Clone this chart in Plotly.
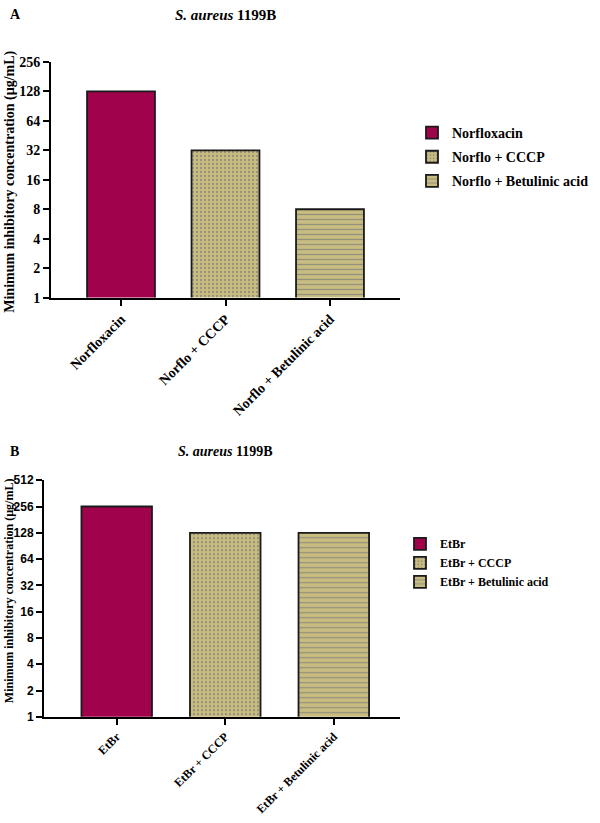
import plotly.graph_objects as go

# Panel A data
cats_a = ["Norfloxacin", "Norflo + CCCP", "Norflo + Betulinic acid"]
mic_a = [128, 32, 8]
# Panel B data
cats_b = ["EtBr", "EtBr + CCCP", "EtBr + Betulinic acid"]
mic_b = [256, 128, 128]

ticks_a = [1, 2, 4, 8, 16, 32, 64, 128, 256]
ticks_b = [1, 2, 4, 8, 16, 32, 64, 128, 256, 512]

CRIMSON = "#A0034B"
TAN = "#C9BC80"
FG = "#5A6475"
SERIF = "Liberation Serif"
SANS = "Liberation Sans"

styles = [
    dict(color=CRIMSON, pattern=dict(shape="")),
    dict(color=TAN, pattern=dict(shape=".", fgcolor=FG, bgcolor=TAN, size=4, solidity=0.25)),
    dict(color=TAN, pattern=dict(shape="-", fgcolor=FG, bgcolor=TAN, size=5, solidity=0.25)),
]

fig = go.Figure()
for i, (c, v) in enumerate(zip(cats_a, mic_a)):
    fig.add_trace(go.Bar(
        x=[c], y=[v], name="<b>%s</b>" % c, width=0.65, xaxis="x", yaxis="y",
        marker=dict(color=styles[i]["color"], pattern=styles[i]["pattern"],
                    line=dict(color="#1a1a1a", width=1.8)),
        legend="legend", legendgroup="a%d" % i, offsetgroup="a",
    ))
for i, (c, v) in enumerate(zip(cats_b, mic_b)):
    fig.add_trace(go.Bar(
        x=[c], y=[v], name="<b>%s</b>" % c, width=0.65, xaxis="x2", yaxis="y2",
        marker=dict(color=styles[i]["color"], pattern=styles[i]["pattern"],
                    line=dict(color="#1a1a1a", width=1.8)),
        legend="legend2", legendgroup="b%d" % i, offsetgroup="b",
    ))

axis_common = dict(showline=True, linecolor="black", linewidth=2, ticks="outside",
                   tickcolor="black", tickwidth=2, ticklen=6, showgrid=False, zeroline=False)

fig.update_layout(
    width=600, height=823, autosize=False,
    margin=dict(l=0, r=0, t=0, b=0),
    paper_bgcolor="white", plot_bgcolor="white",
    barmode="overlay",
    xaxis=dict(domain=[51/600, 400/600], anchor="y", range=[-0.67, 2.67],
               tickangle=-45, tickfont=dict(family=SERIF, size=14, color="black"),
               tickvals=cats_a, ticktext=["<b>%s</b>" % c for c in cats_a],
               categoryorder="array", categoryarray=cats_a, **axis_common),
    yaxis=dict(domain=[1-296/823, 1-56/823], anchor="x", type="log",
               range=[0, 2.40824], tickvals=ticks_a, ticktext=["<b>%d</b>" % t for t in ticks_a],
               tickfont=dict(family=SERIF, size=14, color="black"), **axis_common),
    xaxis2=dict(domain=[44/600, 400/600], anchor="y2", range=[-0.67, 2.61],
                tickangle=-45, tickfont=dict(family=SERIF, size=12, color="black"),
                tickvals=cats_b, ticktext=["<b>%s</b>" % c for c in cats_b],
                categoryorder="array", categoryarray=cats_b, **axis_common),
    yaxis2=dict(domain=[1-723/823, 1-482/823], anchor="x2", type="log",
                range=[0, 2.70927], tickvals=ticks_b, ticktext=["<b>%d</b>" % t for t in ticks_b],
                tickfont=dict(family=SANS, size=12, color="black"), **axis_common),
    legend=dict(x=412/600, y=1-112/823, xanchor="left", yanchor="top",
                font=dict(family=SERIF, size=14, color="black"), tracegroupgap=3,
                bgcolor="rgba(0,0,0,0)"),
    legend2=dict(x=400/600, y=1-532/823, xanchor="left", yanchor="top",
                 font=dict(family=SERIF, size=12, color="black"), tracegroupgap=0,
                 bgcolor="rgba(0,0,0,0)"),
    font=dict(family=SERIF, color="black"),
)

ytitle = "<b>Minimum inhibitory concentration (µg/mL)</b>"
ann = [
    dict(text="<b>A</b>", x=8/600, y=1-8/823, xref="paper", yref="paper",
         xanchor="left", yanchor="middle", showarrow=False, font=dict(family=SERIF, size=14)),
    dict(text="<b><i>S. aureus</i> 1199B</b>", x=225/600, y=1-8/823, xref="paper", yref="paper",
         xanchor="center", yanchor="middle", showarrow=False, font=dict(family=SERIF, size=15)),
    dict(text="<b>B</b>", x=8/600, y=1-453/823, xref="paper", yref="paper",
         xanchor="left", yanchor="middle", showarrow=False, font=dict(family=SERIF, size=14)),
    dict(text="<b><i>S. aureus</i> 1199B</b>", x=225/600, y=1-453/823, xref="paper", yref="paper",
         xanchor="center", yanchor="middle", showarrow=False, font=dict(family=SERIF, size=14)),
    dict(text=ytitle, x=10/600, y=1-178/823, xref="paper", yref="paper", textangle=-90,
         xanchor="center", yanchor="middle", showarrow=False, font=dict(family=SERIF, size=14)),
    dict(text=ytitle, x=9/600, y=1-595/823, xref="paper", yref="paper", textangle=-90,
         xanchor="center", yanchor="middle", showarrow=False, font=dict(family=SERIF, size=12)),
]
fig.update_layout(annotations=ann)

fig.write_html("out.html")
